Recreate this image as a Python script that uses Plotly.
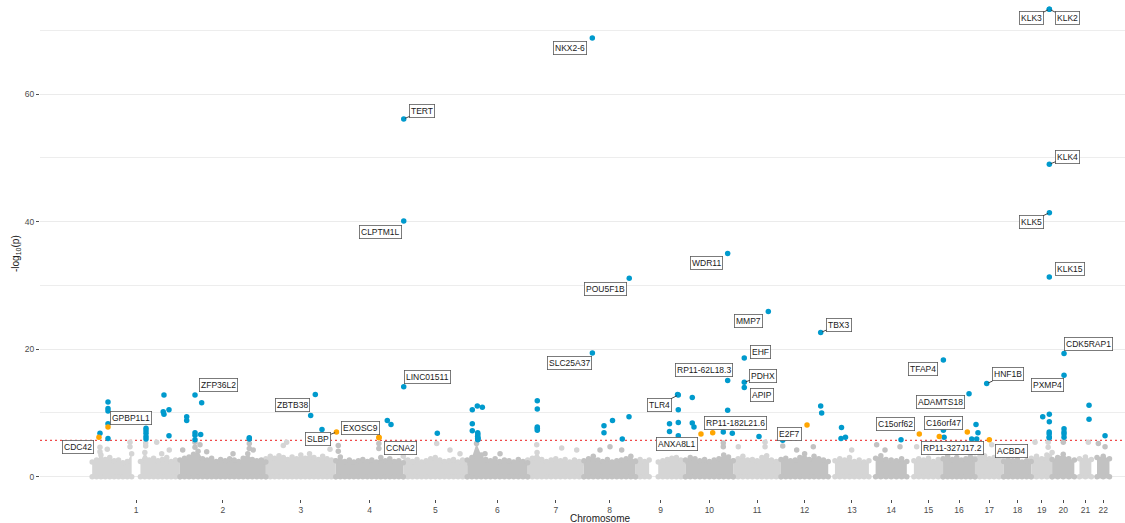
import plotly.graph_objects as go

# ---------------------------------------------------------------------------
# Genome layout (hg19, Mb)
# ---------------------------------------------------------------------------
chrom_names = [str(i) for i in range(1, 23)]
chrom_len_mb = [249.25, 243.20, 198.02, 191.15, 180.92, 171.12, 159.14, 146.36,
                141.21, 135.53, 135.01, 133.85, 115.17, 107.35, 102.53, 90.35,
                81.20, 78.08, 59.13, 63.03, 48.13, 51.30]
chrom_first_mb = [0.8, 0.2, 0.2, 0.2, 0.2, 0.2, 0.2, 0.2, 0.2, 0.2, 0.2, 0.2,
                  19.0, 19.0, 20.0, 0.1, 0.1, 0.1, 0.3, 0.1, 14.5, 16.0]

# ---------------------------------------------------------------------------
# Bulk of non-significant genes: upper edge of the dense band per chromosome
# (-log10 p, evenly spaced along each chromosome; None = centromere gap)
# ---------------------------------------------------------------------------
band_chr1 = [2.3, 2.6, 3.4, 2.7, 3.0, 2.5, 2.6, 2.2, 2.4, 3.6, None, 2.4, 3.8, 2.6, 2.9, 2.5, 2.7, 3.0, 2.4, 2.6, 2.3]
band_chr2 = [2.6, 2.9, 3.1, 3.5, 4.0, 2.8, 2.6, 2.9, 2.4, 2.7, 2.5, 2.8, 2.6, 2.4, 2.9, 3.6, 2.7, 2.5, 2.6, 2.3]
band_chr3 = [2.8, 3.2, 2.9, 3.3, 3.0, 2.7, 3.1, 2.8, 3.4, 2.9, 3.6, 3.0, 2.7, 3.2, 2.8, 2.6, 2.5]
band_chr4 = [2.5, 3.1, 2.4, 2.6, 2.3, 2.5, 2.7, 2.4, 2.6, 2.3, 3.0, 2.5, 2.8, 2.4, 2.5, 2.2]
band_chr5 = [3.2, 2.6, 2.4, 2.7, 2.3, 2.5, 2.8, 3.0, 2.6, 2.4, 2.5, 2.7, 2.3, 2.6, 2.2]
band_chr6 = [2.6, 3.0, 5.2, 3.4, 2.7, 2.5, 2.8, 2.4, 2.6, 2.5, 2.3, 2.7, 2.4, 2.2]
band_chr7 = [2.6, 2.9, 3.8, 2.7, 2.4, 2.6, 2.8, 2.5, 2.7, 2.3, 2.6, 2.4, 2.2]
band_chr8 = [2.5, 2.8, 3.2, 2.6, 2.4, 2.7, 2.3, 2.5, 2.6, 2.8, 3.2, 2.4]
band_chr9 = [2.5, 2.7, 2.4, 2.6, None, 2.3, 2.5, 2.7, 2.9, 3.0, 2.6, 2.4]
band_chr10 = [2.6, 3.0, 2.8, 2.5, 2.7, 2.4, 2.6, 2.8, 3.4, 3.1, 2.5]
band_chr11 = [2.5, 2.8, 3.2, 2.6, 2.7, 2.5, 3.0, 3.3, 2.6, 2.4, 2.5]
band_chr12 = [2.7, 2.9, 2.5, 2.6, 3.0, 3.6, 2.7, 3.2, 2.8, 2.6, 2.4]
band_chr13 = [2.5, 2.8, 2.6, 3.0, 2.4, 2.6, 2.3, 2.5]
band_chr14 = [2.9, 3.3, 2.7, 2.6, 2.5, 2.8, 2.4]
band_chr15 = [2.5, 2.8, 2.6, 2.9, 2.4, 2.7, 2.5]
band_chr16 = [2.8, 3.2, 2.7, 3.0, 2.6, 2.8, 3.1, 2.7]
band_chr17 = [2.9, 3.1, 3.3, 2.8, 3.0, 2.7, 2.6]
band_chr18 = [2.4, 2.6, 2.5, 2.7, 2.3, 2.5, 2.4]
band_chr19 = [2.9, 3.2, 2.8, 3.4, 3.8]
band_chr20 = [2.7, 3.0, 3.5, 2.8, 2.6]
band_chr21 = [2.8, 3.1, 2.7]
band_chr22 = [3.0, 3.2, 2.8]

# Sub-threshold genes standing out above the band
bg_chr = [1, 1, 1, 1, 1, 1, 1, 1, 1, 1,
          2, 2, 2, 2, 2, 2, 2, 2, 2,
          3, 3, 3, 3, 4, 4, 4, 4,
          5, 5, 5, 6, 6, 7, 7, 7,
          8, 8, 8, 9, 10, 10, 11, 11, 11,
          12, 12, 12, 13, 14, 14, 14, 15, 15, 16, 16, 17,
          19, 19, 19, 20, 21, 22, 22]
bg_pos = [22.9, 22.9, 43.6, 107.9, 107.9, 152.3, 152.3, 183.5, 197.6, 219.1,
          7.8, 42.6, 42.6, 56.8, 75.8, 150.3, 196.4, 196.4, 207.7,
          49.5, 59.0, 129.9, 181.7, 7.1, 7.1, 122.0, 122.0,
          94.6, 132.3, 160.6, 50.5, 93.0, 25.8, 96.5, 139.0,
          45.8, 74.1, 107.2, 116.6, 107.3, 107.3, 14.3, 89.9, 89.9,
          5.0, 44.6, 91.6, 66.4, 22.0, 45.6, 88.0, 27.9, 93.9, 38.7, 81.2, 47.4,
          10.8, 48.0, 48.0, 31.8, 39.6, 19.8, 38.8]
bg_logp = [4.6, 3.9, 4.3, 5.4, 4.7, 5.3, 4.8, 5.4, 3.6, 4.2,
           4.2, 5.4, 4.6, 5.0, 3.9, 3.6, 5.2, 4.4, 4.2,
           4.9, 5.4, 5.5, 4.3, 4.9, 4.0, 5.2, 4.4,
           5.2, 4.2, 3.6, 3.6, 3.6, 5.0, 4.5, 4.2,
           4.2, 4.7, 4.2, 5.2, 5.3, 4.7, 4.7, 5.4, 4.7,
           4.8, 4.2, 4.7, 4.2, 5.0, 4.2, 4.7, 4.7, 4.7, 4.2, 4.7, 5.0,
           5.4, 5.4, 4.6, 5.4, 5.4, 5.2, 4.7]

# ---------------------------------------------------------------------------
# Genome-wide significant genes ("known" = blue, "novel" = orange)
# ---------------------------------------------------------------------------
hit_gene = ["", "CDC42", "", "", "", "", "GPBP1L1", "",
            "", "", "", "", "", "", "", "", "", "",
            "", "", "ZFP36L2", "", "", "", "", "", "", "",
            "", "ZBTB38", "",
            "SLBP", "EXOSC9", "CCNA2", "", "",
            "TERT", "CLPTM1L", "LINC01511", "",
            "", "", "", "", "", "", "", "", "", "", "", "",
            "", "", "", "", "",
            "NKX2-6", "SLC25A37", "", "", "", "", "", "POU5F1B",
            "", "", "TLR4", "", "", "", "",
            "", "", "", "ANXA8L1", "RP11-182L21.6", "", "WDR11", "RP11-62L18.3", "", "",
            "EHF", "PDHX", "APIP", "", "MMP7",
            "", "E2F7", "TBX3", "", "",
            "", "", "",
            "",
            "C15orf62", "RP11-327J17.2",
            "TFAP4", "", "", "C16orf47", "ADAMTS18", "",
            "", "", "", "HNF1B", "ACBD4",
            "", "", "", "", "", "", "", "KLK3", "KLK2", "KLK4", "KLK5", "KLK15",
            "CDK5RAP1", "PXMP4", "", "", "", "",
            "", "",
            ""]
hit_chr = [1, 1, 1, 1, 1, 1, 1, 1,
           1, 1, 1, 1, 1, 1, 1, 1, 1, 1,
           2, 2, 2, 2, 2, 2, 2, 2, 2, 2,
           3, 3, 3,
           4, 4, 4, 4, 4,
           5, 5, 5, 5,
           6, 6, 6, 6, 6, 6, 6, 6, 6, 6, 6, 6,
           7, 7, 7, 7, 7,
           8, 8, 8, 8, 8, 8, 8, 8,
           9, 9, 9, 9, 9, 9, 9,
           10, 10, 10, 10, 10, 10, 10, 10, 10, 10,
           11, 11, 11, 11, 11,
           12, 12, 12, 12, 12,
           13, 13, 13,
           14,
           15, 15,
           16, 16, 16, 16, 16, 16,
           17, 17, 17, 17, 17,
           19, 19, 19, 19, 19, 19, 19, 19, 19, 19, 19, 19,
           20, 20, 20, 20, 20, 20,
           21, 21,
           22]
hit_pos = [22.9, 20.0, 45.6, 45.6, 45.6, 45.6, 45.6, 45.6,
           153.2, 153.2, 153.2, 153.2, 153.2, 204.1, 202.0, 204.1, 218.3, 218.3,
           19.2, 19.2, 42.7, 42.7, 42.7, 42.7, 61.6, 58.8, 196.4, 196.4,
           127.0, 140.1, 159.0,
           2.0, 122.4, 122.4, 145.9, 156.4,
           1.3, 1.3, 1.3, 96.3,
           14.5, 14.5, 14.5, 28.7, 42.9, 29.8, 30.2, 29.6, 30.5, 29.9, 30.1, 29.7,
           27.4, 27.4, 27.4, 27.4, 27.4,
           24.0, 24.2, 57.1, 57.1, 81.2, 108.9, 127.9, 128.6,
           96.2, 96.2, 121.1, 119.0, 121.1, 121.1, 121.1,
           19.5, 19.5, 24.3, 44.1, 77.3, 107.3, 119.7, 119.7, 119.7, 132.8,
           31.2, 31.2, 31.2, 72.8, 99.2,
           5.0, 73.8, 112.5, 112.5, 115.3,
           37.6, 36.2, 48.8,
           90.9,
           35.3, 91.9,
           1.0, 1.0, 3.0, 68.8, 73.6, 81.2,
           3.0, 5.0, 8.6, 33.3, 40.7,
           32.6, 51.3, 51.3, 50.9, 50.9, 51.0, 51.1, 51.3, 51.4, 51.3, 51.5, 51.3,
           33.8, 33.8, 33.8, 33.8, 33.8, 33.8,
           41.6, 41.6,
           38.8]
hit_logp = [6.8, 6.2, 11.7, 10.7, 10.3, 8.3, 7.8, 6.0,
            7.6, 7.2, 6.8, 6.3, 5.9, 12.8, 10.2, 9.8, 10.5, 6.4,
            9.4, 8.8, 12.8, 6.9, 6.5, 5.8, 11.6, 6.6, 6.1, 5.9,
            9.6, 12.9, 7.4,
            7.0, 6.2, 6.1, 8.8, 8.2,
            56.1, 40.1, 14.1, 6.8,
            10.5, 8.3, 7.2, 11.1, 10.9, 6.9, 6.6, 6.3, 6.1, 5.9, 5.8, 6.0,
            11.9, 10.6, 7.8, 7.6, 7.3,
            68.8, 19.4, 8.0, 6.9, 8.8, 5.9, 9.4, 31.1,
            8.3, 7.1, 12.8, 12.9, 10.5, 8.5, 6.4,
            12.4, 8.4, 7.8, 6.7, 6.9, 7.0, 35.0, 15.1, 10.4, 6.8,
            18.6, 14.8, 14.0, 6.3, 25.9,
            5.7, 8.1, 22.6, 11.1, 10.0,
            7.7, 6.0, 6.2,
            5.8,
            6.7, 6.3,
            18.3, 7.3, 6.2, 7.0, 13.0, 5.9,
            8.2, 5.9, 6.9, 14.6, 5.8,
            9.4, 9.8, 8.6, 7.0, 6.7, 6.2, 6.1, 73.3, 73.3, 49.0, 41.4, 31.3,
            19.3, 15.9, 7.5, 7.0, 6.7, 6.2,
            11.2, 9.0,
            6.4]
hit_group = ["known", "novel", "known", "known", "known", "known", "novel", "known",
             "known", "known", "known", "known", "known", "known", "known", "known", "known", "known",
             "known", "known", "known", "known", "known", "known", "known", "known", "known", "known",
             "known", "known", "known",
             "novel", "novel", "novel", "known", "known",
             "known", "known", "known", "known",
             "known", "known", "known", "known", "known", "known", "known", "known", "known", "known", "known", "known",
             "known", "known", "known", "known", "known",
             "known", "known", "known", "known", "known", "known", "known", "known",
             "known", "known", "known", "known", "known", "known", "known",
             "known", "known", "known", "novel", "novel", "known", "known", "known", "known", "known",
             "known", "known", "known", "known", "known",
             "known", "novel", "known", "known", "known",
             "known", "known", "known",
             "known",
             "novel", "novel",
             "known", "known", "known", "novel", "known", "known",
             "known", "known", "known", "known", "novel",
             "known", "known", "known", "known", "known", "known", "known", "known", "known", "known", "known", "known",
             "known", "known", "known", "known", "known", "known",
             "known", "known",
             "known"]

SIG_LOGP = 5.7  # gene-based genome-wide threshold

# ---------------------------------------------------------------------------
# Label placement (pixel offset of the label box from its gene, leader line)
# ---------------------------------------------------------------------------
label_offsets = {
    "NKX2-6": (-22, 10, False), "KLK3": (-18, 9, True), "KLK2": (18, 9, True),
    "KLK4": (18.5, -7.3, True), "KLK5": (-18.3, 9.1, True), "KLK15": (20.7, -8.5, False),
    "TERT": (18.5, -8, True), "CLPTM1L": (-23.6, 11.2, False), "WDR11": (-21.6, 9.7, False),
    "POU5F1B": (-23.6, 10.5, False), "MMP7": (-20, 9.5, False), "TBX3": (18.3, -8, True),
    "EHF": (16.5, -6.5, False), "SLC25A37": (-23, 10.5, False), "LINC01511": (24.2, -9.5, False),
    "ZFP36L2": (23.3, -9.7, False), "GPBP1L1": (23.3, -9.2, False), "CDC42": (-20.8, 9.4, False),
    "ZBTB38": (-22.5, 10.7, False), "SLBP": (-18.4, 7.3, True), "EXOSC9": (-18.2, -9.4, False),
    "CCNA2": (21.3, 9.8, False), "TLR4": (-19.1, 9.5, True), "RP11-62L18.3": (-23.4, -10.8, False),
    "PDHX": (19.2, -6.8, True), "APIP": (17.4, 7.7, False), "ANXA8L1": (-23.7, 9.8, False),
    "RP11-182L21.6": (23.1, -10.1, False), "E2F7": (-17.2, 8.8, False), "C15orf62": (-23.3, -10, False),
    "C16orf47": (-23.6, -9.5, False), "RP11-327J17.2": (13.5, 11.7, False), "ACBD4": (21.9, 10.9, False),
    "TFAP4": (-20, 9.2, False), "HNF1B": (21.3, -9.1, True), "ADAMTS18": (-28.5, 8.5, False),
    "CDK5RAP1": (24.5, -9.6, False), "PXMP4": (-16.5, 10, False),
}

# ---------------------------------------------------------------------------
# Styling
# ---------------------------------------------------------------------------
FONT = "Liberation Sans, Arial, sans-serif"
GREY_ODD = "#d5d5d5"
GREY_EVEN = "#c2c2c2"
BLUE = "#009ACD"
ORANGE = "#FFA500"
MARKER = 5.5
BAND_FLOOR = -0.3

# cumulative genome coordinate
cum_start = []
acc = 0.0
for length in chrom_len_mb:
    cum_start.append(acc)
    acc += length


def gpos(chrom, pos_mb):
    return cum_start[chrom - 1] + pos_mb


tick_vals = [cum_start[i] + (chrom_first_mb[i] + chrom_len_mb[i]) / 2 for i in range(22)]

bands = [band_chr1, band_chr2, band_chr3, band_chr4, band_chr5, band_chr6, band_chr7,
         band_chr8, band_chr9, band_chr10, band_chr11, band_chr12, band_chr13, band_chr14,
         band_chr15, band_chr16, band_chr17, band_chr18, band_chr19, band_chr20,
         band_chr21, band_chr22]

fig = go.Figure()

# dense band of non-significant genes
poly = {0: ([], []), 1: ([], [])}
tops = {0: ([], []), 1: ([], [])}
for i, band in enumerate(bands):
    parity = i % 2
    n = len(band)
    start = chrom_first_mb[i]
    end = chrom_len_mb[i]
    xs = [gpos(i + 1, start + k * (end - start) / (n - 1)) for k in range(n)]
    segment = []
    for x, v in zip(xs + [None], band + [None]):
        if v is None:
            if segment:
                sx = [p[0] for p in segment]
                sy = [p[1] for p in segment]
                px, py = poly[parity]
                px.extend(sx + [sx[-1], sx[0], None])
                py.extend(sy + [BAND_FLOOR, BAND_FLOOR, None])
                tx, ty = tops[parity]
                tx.extend(sx)
                ty.extend(sy)
                # bottom row of the band
                tx.extend(sx)
                ty.extend([0.0] * len(sx))
            segment = []
        else:
            segment.append((x, v))

for parity, color in ((0, GREY_ODD), (1, GREY_EVEN)):
    px, py = poly[parity]
    fig.add_trace(go.Scatter(x=px, y=py, mode="lines", fill="toself", fillcolor=color,
                             line=dict(width=0, color=color), hoverinfo="skip"))
    tx, ty = tops[parity]
    fig.add_trace(go.Scatter(x=tx, y=ty, mode="markers",
                             marker=dict(size=MARKER, color=color, line=dict(width=0)),
                             hoverinfo="skip"))

# scattered sub-threshold genes
for parity, color in ((0, GREY_ODD), (1, GREY_EVEN)):
    xs = [gpos(c, p) for c, p in zip(bg_chr, bg_pos) if (c - 1) % 2 == parity]
    ys = [v for c, v in zip(bg_chr, bg_logp) if (c - 1) % 2 == parity]
    fig.add_trace(go.Scatter(x=xs, y=ys, mode="markers",
                             marker=dict(size=MARKER, color=color, line=dict(width=0)),
                             hoverinfo="skip"))

# significant genes
for group, color in (("known", BLUE), ("novel", ORANGE)):
    xs = [gpos(c, p) for c, p, g in zip(hit_chr, hit_pos, hit_group) if g == group]
    ys = [v for v, g in zip(hit_logp, hit_group) if g == group]
    fig.add_trace(go.Scatter(x=xs, y=ys, mode="markers",
                             marker=dict(size=MARKER, color=color, line=dict(width=0))))

# gene labels
annotations = []
for gene, c, p, v in zip(hit_gene, hit_chr, hit_pos, hit_logp):
    if not gene:
        continue
    dx, dy, leader = label_offsets[gene]
    common = dict(x=gpos(c, p), y=v, xref="x", yref="y", text=gene,
                  font=dict(family=FONT, size=8.5, color="#1a1a1a"),
                  bgcolor="white", bordercolor="#5a5a5a", borderwidth=0.8, borderpad=1.2)
    if leader:
        annotations.append(dict(common, showarrow=True, arrowhead=0, arrowwidth=0.9,
                                arrowcolor="#333333", ax=dx, ay=dy, standoff=1.5))
    else:
        annotations.append(dict(common, showarrow=False, xshift=dx, yshift=-dy))

# axis titles
annotations.append(dict(text="Chromosome", xref="x", yref="paper",
                        x=(600 - 91.9) / 0.3532, y=0, yanchor="middle", yshift=-19,
                        showarrow=False, font=dict(family=FONT, size=10, color="#222222")))
annotations.append(dict(text="-log<sub>10</sub>(p)", xref="paper", yref="paper",
                        x=0, y=(499 - 254) / 499, xanchor="center", yanchor="middle",
                        xshift=-24, textangle=-90, showarrow=False,
                        font=dict(family=FONT, size=10, color="#222222")))

fig.add_shape(type="line", xref="paper", yref="y", x0=0, x1=1, y0=SIG_LOGP, y1=SIG_LOGP,
              line=dict(color="#f04a4a", width=1.3, dash="2px,3px"), layer="below")

fig.update_layout(
    width=1125, height=523,
    margin=dict(l=40, r=0, t=0, b=24),
    paper_bgcolor="white", plot_bgcolor="white",
    showlegend=False,
    font=dict(family=FONT, size=8.5, color="#4d4d4d"),
    annotations=annotations,
    xaxis=dict(range=[-146.9, 2925.0], tickvals=tick_vals, ticktext=chrom_names,
               ticks="outside", ticklen=3, tickwidth=0.8, tickcolor="#4d4d4d",
               showgrid=False, zeroline=False, showline=False,
               tickfont=dict(family=FONT, size=8.5, color="#4d4d4d")),
    yaxis=dict(range=[-3.5, 74.75], tickvals=[0, 20, 40, 60],
               ticks="outside", ticklen=3, tickwidth=0.8, tickcolor="#4d4d4d",
               showgrid=True, gridcolor="#ebebeb", gridwidth=0.7,
               zeroline=False, showline=False,
               minor=dict(tickvals=[10, 30, 50, 70], showgrid=True,
                          gridcolor="#ededed", gridwidth=0.6),
               tickfont=dict(family=FONT, size=8.5, color="#4d4d4d")),
)

fig.write_html("out.html")
